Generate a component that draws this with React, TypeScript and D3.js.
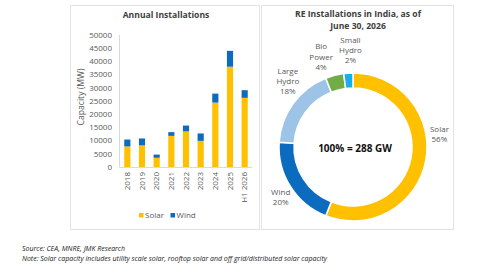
import React from "react";
import * as d3 from "d3";

// annual additions, MW
const years = ["2018", "2019", "2020", "2021", "2022", "2023", "2024", "2025", "H1 2026"];
const solarMW = [7800, 8200, 3500, 11800, 13500, 9900, 24400, 38000, 26200];
const windMW = [2600, 2600, 1200, 1400, 2200, 2800, 3400, 6000, 2900];
const yTicks = [0, 5000, 10000, 15000, 20000, 25000, 30000, 35000, 40000, 45000, 50000];

// cumulative mix, %
const mixNames = ["Solar", "Wind", "Large Hydro", "Bio Power", "Small Hydro"];
const mixShare = [56, 20, 18, 4, 2];

const SOLAR = "#FFC000";
const WIND = "#0B6CBF";
const mixColors = ["#FFC000", "#0B6CBF", "#9DC3E6", "#70AD47", "#1AAEE8"];
const GREY = "#595959";
const FONT = "'Open Sans', sans-serif";

// label nudges relative to the slice centroid
const labelNudge = [[0, -29], [2, 3], [6, -14], [-10, -5], [3, -9]];

const BarPanel = () => {
  const x = d3.scaleBand<string>().domain(years).range([120, 252]).paddingInner(0.58).paddingOuter(0.29);
  const y = d3.scaleLinear().domain([0, 50000]).range([167, 35]);
  const rows = years.map((yr, i) => ({ year: yr, solar: solarMW[i], wind: windMW[i] }));
  const stacked = d3.stack<any>().keys(["solar", "wind"])(rows);
  const colors = [SOLAR, WIND];

  return (
    <g>
      <rect x={70.5} y={5.5} width={189} height={224} fill="#fff" stroke="#e3e3e3" />
      <text x={166} y={18} textAnchor="middle" fontSize={8.6} fontWeight="bold" fill="#404040">Annual Installations</text>
      {yTicks.map(t => (
        <text key={t} x={112} y={y(t)} dy="0.35em" textAnchor="end" fontSize={8} fill={GREY}>{t}</text>
      ))}
      <line x1={119.5} x2={119.5} y1={35} y2={167} stroke="#d9d9d9" />
      <line x1={119.5} x2={252} y1={167.5} y2={167.5} stroke="#d9d9d9" />
      <text transform={`translate(84,97) rotate(-90)`} textAnchor="middle" fontSize={8.6} fill={GREY}>Capacity (MW)</text>
      {stacked.map((s, si) => (
        <g key={si} fill={colors[si]}>
          {s.map((d, i) => (
            <rect key={i} x={x(years[i])} y={y(d[1])} width={x.bandwidth()} height={y(d[0]) - y(d[1])} />
          ))}
        </g>
      ))}
      {years.map(yr => (
        <text key={yr} transform={`translate(${(x(yr) ?? 0) + x.bandwidth() / 2},172) rotate(-90)`}
          textAnchor="end" dy="0.35em" fontSize={8} fill={GREY}>{yr}</text>
      ))}
      <rect x={139} y={213} width={4.5} height={4.5} fill={SOLAR} />
      <text x={145} y={215.5} dy="0.35em" fontSize={8} fill={GREY}>Solar</text>
      <rect x={170.5} y={213} width={4.5} height={4.5} fill={WIND} />
      <text x={176.5} y={215.5} dy="0.35em" fontSize={8} fill={GREY}>Wind</text>
    </g>
  );
};

const DonutPanel = () => {
  const cx = 353, cy = 147;
  const pie = d3.pie<number>().sort(null).value(d => d)(mixShare);
  const arc = d3.arc<d3.PieArcDatum<number>>().innerRadius(59).outerRadius(74);
  const labelArc = d3.arc<d3.PieArcDatum<number>>().innerRadius(88).outerRadius(88);

  return (
    <g>
      <rect x={261.5} y={5.5} width={192} height={224} fill="#fff" stroke="#e3e3e3" />
      <text x={358} y={17} textAnchor="middle" fontSize={8.6} fontWeight="bold" fill="#404040">
        <tspan x={358}>RE Installations in India, as of</tspan>
        <tspan x={358} dy={11.5}>June 30, 2026</tspan>
      </text>
      <g transform={`translate(${cx},${cy})`}>
        {pie.map((d, i) => (
          <path key={i} d={arc(d) ?? ""} fill={mixColors[i]} stroke="#fff" strokeWidth={1.5} />
        ))}
        {pie.map((d, i) => {
          const [lx, ly] = labelArc.centroid(d);
          const lines = [...mixNames[i].split(" "), `${mixShare[i]}%`];
          const px = lx + labelNudge[i][0];
          const py = ly + labelNudge[i][1] - ((lines.length - 1) * 10.3) / 2;
          return (
            <text key={i} x={px} y={py} textAnchor="middle" fontSize={8} fill={GREY}>
              {lines.map((l, j) => (
                <tspan key={j} x={px} y={py + j * 10.3} dy="0.35em">{l}</tspan>
              ))}
            </text>
          );
        })}
        <text x={2} y={1} dy="0.35em" textAnchor="middle" fontSize={10} fontWeight="bold" fill="#111">100% = 288 GW</text>
      </g>
    </g>
  );
};

export default function App() {
  return (
    <svg width={480} height={270} style={{ position: "absolute", left: 0, top: 0, fontFamily: FONT }}>
      <rect width={480} height={270} fill="#fff" />
      <BarPanel />
      <DonutPanel />
      <text x={22} y={251} fontSize={7} fontStyle="italic" fill="#222">Source: CEA, MNRE, JMK Research</text>
      <text x={22} y={261} fontSize={7} fontStyle="italic" fill="#222">
        Note: Solar capacity includes utility scale solar, rooftop solar and off grid/distributed solar capacity
      </text>
    </svg>
  );
}
